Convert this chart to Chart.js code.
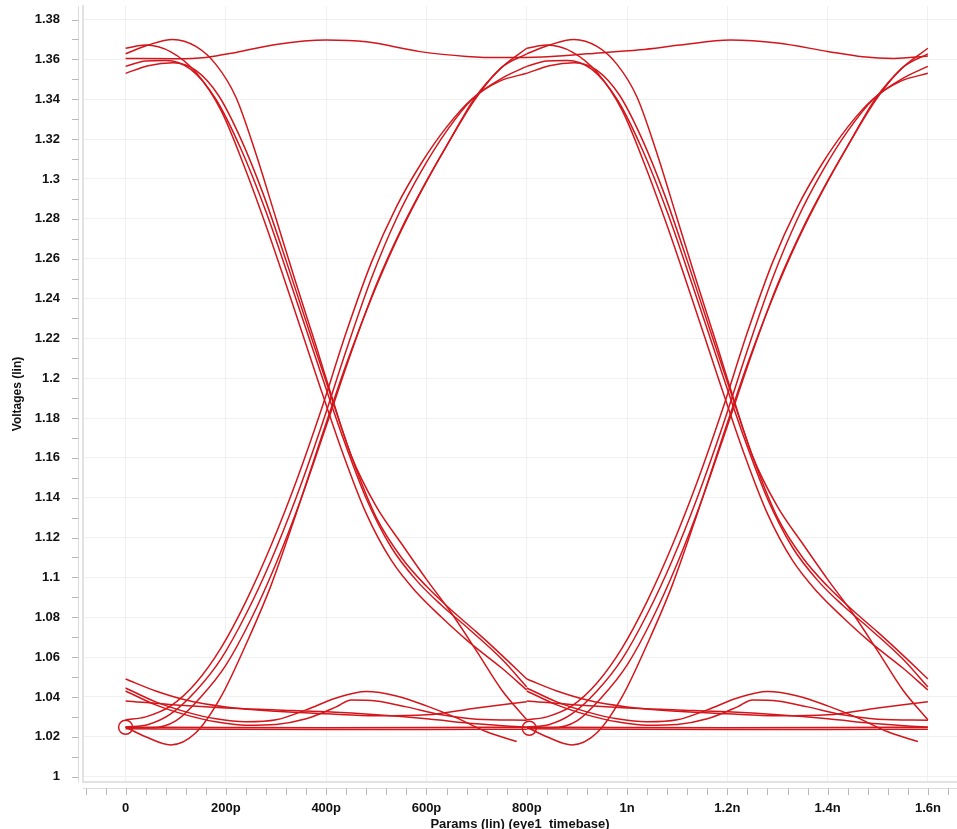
<!DOCTYPE html>
<html>
<head>
<meta charset="utf-8">
<script src="https://cdn.jsdelivr.net/npm/chart.js@4.4.1/dist/chart.umd.min.js"></script>
<style>
  html, body { margin: 0; padding: 0; background: #fff; }
  canvas { display: block; }
</style>
</head>
<body>
<canvas id="eye" width="957" height="829"></canvas>
<script>
// axis ticks
const xMajorTicks = [0, 200, 400, 600, 800, 1000, 1200, 1400, 1600];
const xTickLabels = ['0', '200p', '400p', '600p', '800p', '1n', '1.2n', '1.4n', '1.6n'];
const yMajorTicks = [1, 1.02, 1.04, 1.06, 1.08, 1.1, 1.12, 1.14, 1.16, 1.18, 1.2,
  1.22, 1.24, 1.26, 1.28, 1.3, 1.32, 1.34, 1.36, 1.38];
const yTickLabels = ['1', '1.02', '1.04', '1.06', '1.08', '1.1', '1.12', '1.14', '1.16', '1.18', '1.2',
  '1.22', '1.24', '1.26', '1.28', '1.3', '1.32', '1.34', '1.36', '1.38'];

// one trace that stays high over the whole 1.6n window  [time ps, volts]
const flatTop = [[0,1.3605],[100,1.3603],[160,1.3610],[220,1.3635],[300,1.3675],[400,1.3697],[480,1.3688],
  [587,1.3639],[680,1.3615],[752,1.3609],[830,1.3612],[920,1.3628],[1026,1.3648],[1106,1.3672],[1206,1.3697],
  [1300,1.3682],[1400,1.3640],[1470,1.3613],[1532,1.3605],[1600,1.3617]];

// one unit interval (0..800p), repeated for both halves of the window
const fallA = [[0,1.3656],[40,1.3672],[90,1.3638],[140,1.3535],[190,1.3345],[234,1.3080],[280,1.2765],
  [330,1.2395],[380,1.2015],[430,1.1645],[480,1.1320],[530,1.1085],[580,1.0925],[630,1.0800],[685,1.0675],
  [750,1.0545],[800,1.0435]];
const fallB = [[0,1.3628],[45,1.3672],[94,1.3700],[140,1.3665],[180,1.3575],[220,1.3410],[260,1.3125],
  [300,1.2800],[340,1.2475],[380,1.2160],[412,1.1900],[450,1.1610],[500,1.1355],[550,1.1170],[600,1.0990],
  [650,1.0820],[700,1.0630],[750,1.0435],[800,1.0285]];
const fallC = [[0,1.3565],[40,1.3592],[80,1.3595],[130,1.3550],[180,1.3400],[230,1.3150],[280,1.2835],
  [330,1.2470],[380,1.2095],[430,1.1725],[480,1.1395],[530,1.1150],[580,1.0985],[630,1.0860],[685,1.0740],
  [750,1.0590],[800,1.0450]];
const fallD = [[0,1.3530],[45,1.3568],[95,1.3583],[140,1.3545],[185,1.3420],[230,1.3200],[275,1.2920],
  [320,1.2590],[365,1.2245],[410,1.1905],[455,1.1575],[500,1.1300],[550,1.1100],[600,1.0955],[650,1.0835],
  [700,1.0725],[750,1.0610],[800,1.0490]];

const riseA = [[0,1.0285],[40,1.0300],[90,1.0355],[140,1.0470],[190,1.0645],[240,1.0880],[290,1.1160],
  [340,1.1480],[390,1.1840],[440,1.2230],[490,1.2580],[540,1.2860],[590,1.3080],[640,1.3260],[690,1.3400],
  [745,1.3490],[800,1.3530]];
const riseB = [[0,1.0248],[45,1.0262],[90,1.0315],[140,1.0430],[190,1.0590],[240,1.0815],[290,1.1085],
  [340,1.1400],[390,1.1755],[440,1.2140],[490,1.2500],[540,1.2800],[590,1.3040],[640,1.3240],[693,1.3405],
  [750,1.3505],[800,1.3565]];
const riseC = [[0,1.0248],[50,1.0245],[100,1.0280],[150,1.0400],[200,1.0560],[250,1.0790],[300,1.1070],
  [350,1.1395],[400,1.1760],[450,1.2130],[500,1.2470],[550,1.2750],[600,1.2990],[650,1.3210],[695,1.3402],
  [750,1.3560],[800,1.3656]];
const riseD = [[0,1.0248],[40,1.0200],[90,1.0159],[140,1.0220],[190,1.0400],[244,1.0686],[290,1.0960],
  [340,1.1320],[390,1.1700],[440,1.2070],[490,1.2400],[540,1.2690],[590,1.2940],[640,1.3165],[697,1.3400],
  [750,1.3560],[800,1.3628]];

const lowA = [[0,1.0490],[60,1.0430],[120,1.0385],[200,1.0350],[300,1.0328],[400,1.0315],[500,1.0305],
  [600,1.0310],[700,1.0345],[800,1.0376]];
const lowB = [[0,1.0445],[60,1.0375],[120,1.0325],[180,1.0290],[240,1.0275],[300,1.0285],[360,1.0335],
  [420,1.0395],[480,1.0427],[540,1.0405],[600,1.0355],[660,1.0295],[720,1.0225],[780,1.0176]];
const lowC = [[0,1.0430],[60,1.0360],[120,1.0310],[180,1.0275],[240,1.0258],[300,1.0262],[360,1.0290],
  [420,1.0350],[450,1.0385],[500,1.0380],[560,1.0350],[630,1.0310],[700,1.0288],[800,1.0283]];
const lowD = [[0,1.0380],[100,1.0360],[200,1.0345],[300,1.0335],[400,1.0325],[500,1.0310],[600,1.0290],
  [700,1.0265],[800,1.0248]];
const lowFlatA = [[0,1.0248],[200,1.0246],[400,1.0245],[600,1.0246],[800,1.0248]];
const lowFlatB = [[0,1.0240],[200,1.0238],[400,1.0237],[600,1.0237],[800,1.0238]];

const halfOffsets = [0, 800];
const halfSegments = [fallA, fallB, fallC, fallD, riseA, riseB, riseC, riseD,
  lowA, lowB, lowC, lowD, lowFlatA, lowFlatB];

// marker circles
const markerT = [0, 805];
const markerV = [1.0248, 1.0243];

const RED = '#d3161b';
const lineStyle = {
  showLine: true,
  borderColor: RED,
  borderWidth: 1.5,
  pointRadius: 0,
  cubicInterpolationMode: 'monotone',
};

const datasets = [];
halfOffsets.forEach(off => {
  halfSegments.forEach(seg => {
    datasets.push({ ...lineStyle, data: seg.map(([t, v]) => ({ x: t + off, y: v })) });
  });
});
datasets.push({ ...lineStyle, data: flatTop.map(([t, v]) => ({ x: t, y: v })) });
datasets.push({
  showLine: false,
  data: markerT.map((t, i) => ({ x: t, y: markerV[i] })),
  pointStyle: 'circle',
  pointRadius: 7,
  pointBorderColor: RED,
  pointBackgroundColor: 'rgba(0,0,0,0)',
  pointBorderWidth: 1.5,
});

// small tick strips outside the plot frame (major + minor)
const tickStrips = {
  id: 'tickStrips',
  afterDraw(chart) {
    const { ctx, chartArea, scales: { x, y } } = chart;
    ctx.save();
    ctx.strokeStyle = '#dcdcdc';
    ctx.lineWidth = 1;
    ctx.beginPath();
    ctx.moveTo(78.5, chartArea.top);
    ctx.lineTo(78.5, chartArea.bottom);
    ctx.moveTo(chartArea.left, 788.5);
    ctx.lineTo(chartArea.right, 788.5);
    ctx.stroke();
    ctx.strokeStyle = '#b8b8b8';
    ctx.beginPath();
    for (let k = 0; k <= 38; k++) {
      const py = Math.round(y.getPixelForValue(1 + k * 0.01)) + 0.5;
      ctx.moveTo(72, py);
      ctx.lineTo(78.5, py);
    }
    for (let t = -80; t <= 1640; t += 40) {
      const px = Math.round(x.getPixelForValue(t)) + 0.5;
      ctx.moveTo(px, 788.5);
      ctx.lineTo(px, 795);
    }
    ctx.stroke();
    ctx.restore();
  }
};

Chart.defaults.font.family = '"Liberation Sans", Arial, Helvetica, sans-serif';
Chart.defaults.color = '#111';

new Chart(document.getElementById('eye'), {
  type: 'scatter',
  data: { datasets },
  options: {
    responsive: false,
    animation: false,
    devicePixelRatio: 1,
    layout: { autoPadding: false, padding: { top: 6, right: 0, bottom: 0, left: 0 } },
    plugins: { legend: { display: false }, tooltip: { enabled: false } },
    scales: {
      x: {
        type: 'linear',
        min: -85,
        max: 1658,
        afterBuildTicks: s => { s.ticks = xMajorTicks.map(v => ({ value: v })); },
        afterFit: s => { s.height = 47; s.paddingLeft = 0; s.paddingRight = 0; },
        ticks: {
          callback: (v, i) => xTickLabels[i],
          font: { size: 13, weight: 'bold' },
          color: '#111',
          padding: 19,
          maxRotation: 0,
          autoSkip: false,
        },
        grid: { color: '#f0f0f0', drawTicks: false },
        border: { color: '#e2e2e2', width: 2 },
        title: {
          display: true,
          text: 'Params (lin) (eye1_timebase)',
          font: { size: 13, weight: 'bold', lineHeight: 1.2 },
          color: '#111',
          padding: { top: 0, bottom: -3 },
        },
      },
      y: {
        type: 'linear',
        min: 0.9973,
        max: 1.3868,
        afterBuildTicks: s => { s.ticks = yMajorTicks.map(v => ({ value: v })); },
        afterFit: s => { s.width = 83; s.paddingTop = 0; s.paddingBottom = 0; },
        ticks: {
          callback: (v, i) => yTickLabels[i],
          font: { size: 13, weight: 'bold' },
          color: '#111',
          padding: 23,
          autoSkip: false,
        },
        grid: { color: '#f0f0f0', drawTicks: false },
        border: { color: '#e2e2e2', width: 2 },
        title: {
          display: true,
          text: 'Voltages (lin)',
          font: { size: 12, weight: 'bold', lineHeight: 1.2 },
          color: '#111',
          padding: { top: 10, bottom: 0 },
        },
      },
    },
  },
  plugins: [tickStrips],
});
</script>
</body>
</html>
